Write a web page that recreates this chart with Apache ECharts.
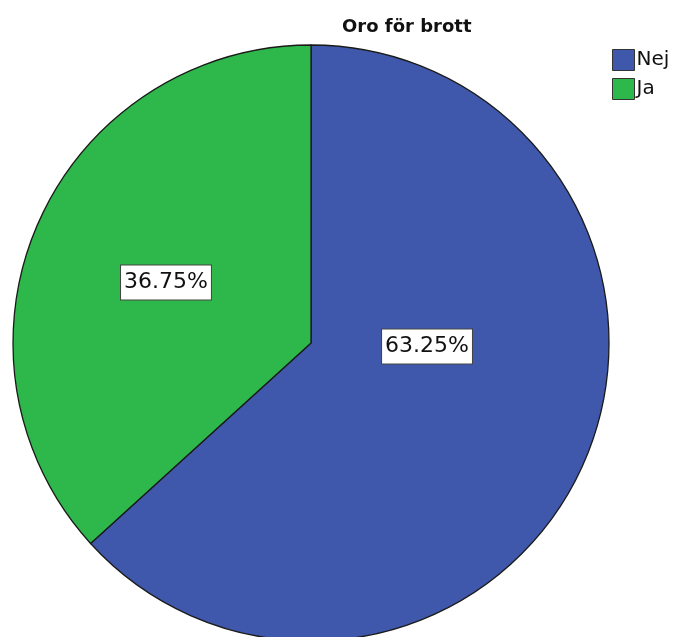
<!DOCTYPE html>
<html>
<head>
<meta charset="utf-8">
<script src="https://cdn.jsdelivr.net/npm/echarts@6/dist/echarts.min.js"></script>
<style>html,body{margin:0;padding:0;background:#fff;}#c{width:677px;height:637px;}</style>
</head>
<body>
<div id="c"></div>
<script>
var categories = ['Nej', 'Ja'];
var percentages = [63.25, 36.75];
var colors = ['#3F58AB', '#2EB84B'];
var labelOffsets = [[-23, -58], [-6, 1]];

var chart = echarts.init(document.getElementById('c'), null, {renderer: 'canvas'});
var data = categories.map(function (name, i) {
  return {
    name: name,
    value: percentages[i],
    itemStyle: {color: colors[i]},
    label: {offset: labelOffsets[i]}
  };
});
chart.setOption({
  animation: false,
  backgroundColor: '#ffffff',
  title: {
    text: 'Oro för brott',
    left: 342,
    top: 18,
    padding: 0,
    textStyle: {fontFamily: 'DejaVu Sans', fontWeight: 'bold', fontSize: 18, color: '#111'}
  },
  legend: {
    orient: 'vertical',
    left: 612,
    top: 49,
    padding: 0,
    itemWidth: 22,
    itemHeight: 21,
    itemGap: 7,
    icon: 'rect',
    selectedMode: false,
    itemStyle: {borderColor: '#333', borderWidth: 1},
    textStyle: {fontFamily: 'DejaVu Sans', fontSize: 20, color: '#111', lineHeight: 21, padding: [0, 0, 0, -3]},
    data: categories
  },
  series: [{
    type: 'pie',
    center: [311, 343],
    radius: 298,
    startAngle: 90,
    clockwise: true,
    silent: true,
    emphasis: {disabled: true},
    itemStyle: {borderColor: '#1a1a1a', borderWidth: 1.3},
    label: {
      show: true,
      position: 'inside',
      formatter: function (p) { return p.value.toFixed(2) + '%'; },
      fontFamily: 'DejaVu Sans',
      fontSize: 22,
      color: '#111',
      backgroundColor: '#ffffff',
      borderColor: '#444',
      borderWidth: 1,
      lineHeight: 26,
      padding: [4, 3, 4, 3]
    },
    labelLine: {show: false},
    data: data
  }]
});
</script>
</body>
</html>
